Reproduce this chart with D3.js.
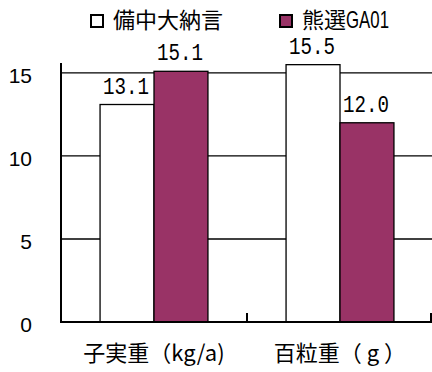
<!DOCTYPE html>
<html>
<head>
<meta charset="utf-8">
<script src="https://cdn.jsdelivr.net/npm/d3@7/dist/d3.min.js"></script>
<style>
  html, body { margin: 0; padding: 0; background: #fff; }
  svg { display: block; }
</style>
</head>
<body>
<svg id="chart" width="432" height="372"></svg>
<script>
// Yield comparison of two azuki varieties
const categories = ["子実重（kg/a)", "百粒重（ g ）"];
const seriesNames = ["備中大納言", "熊選GA01"];
const bicchuDainagon = [13.1, 15.5];
const kumasenGA01 = [15.1, 12.0];
const yTicks = [0, 5, 10, 15];

const seriesValues = [bicchuDainagon, kumasenGA01];
const fills = ["#ffffff", "#993366"];

const svg = d3.select("#chart");
const plotLeft = 61, plotRight = 433, plotTop = 63, plotBottom = 322;

const x = d3.scaleBand().domain(categories).range([plotLeft, plotRight]).paddingInner(0.42).paddingOuter(0.21);
const xs = d3.scaleBand().domain(d3.range(seriesNames.length)).range([0, x.bandwidth()]);
const y = d3.scaleLinear().domain([0, 15.6]).range([plotBottom, plotTop]);

const cjk = "'Noto Sans CJK JP', 'Noto Sans CJK SC', sans-serif";

// horizontal gridlines
svg.append("g").selectAll("line")
  .data(yTicks.filter(t => t > 0))
  .join("line")
  .attr("x1", plotLeft).attr("x2", plotRight)
  .attr("y1", d => y(d)).attr("y2", d => y(d))
  .attr("stroke", "#000").attr("stroke-width", 1.3);

// bars
const rows = [];
categories.forEach((c, ci) => seriesValues.forEach((vals, si) => rows.push({ c, si, v: vals[ci] })));

svg.append("g").selectAll("rect")
  .data(rows)
  .join("rect")
  .attr("x", d => x(d.c) + xs(d.si))
  .attr("y", d => y(d.v))
  .attr("width", xs.bandwidth())
  .attr("height", d => y(0) - y(d.v))
  .attr("fill", d => fills[d.si])
  .attr("stroke", "#000").attr("stroke-width", 1.3);

// value labels
svg.append("g").selectAll("text")
  .data(rows)
  .join("text")
  .attr("x", d => x(d.c) + xs(d.si) + xs.bandwidth() / 2 - 1)
  .attr("y", d => y(d.v) - 11)
  .attr("text-anchor", "middle")
  .attr("font-family", "'Liberation Mono', monospace")
  .attr("font-size", 24)
  .attr("textLength", 46)
  .attr("lengthAdjust", "spacingAndGlyphs")
  .attr("fill", "#000")
  .text(d => d.v.toFixed(1));

// axes
const axes = svg.append("g").attr("stroke", "#000").attr("stroke-width", 2);
axes.append("line").attr("x1", plotLeft).attr("x2", plotLeft).attr("y1", plotTop).attr("y2", plotBottom + 1);
axes.append("line").attr("x1", plotLeft).attr("x2", plotRight).attr("y1", plotBottom).attr("y2", plotBottom);
// category separators on the x axis
const seps = categories.map(c => x(c) + x.bandwidth() + x.step() * 0.21);
axes.selectAll(".sep")
  .data(seps)
  .join("line")
  .attr("x1", d => Math.min(d, 431)).attr("x2", d => Math.min(d, 431))
  .attr("y1", plotBottom - 9).attr("y2", plotBottom);

// y tick labels
svg.append("g").selectAll("text")
  .data(yTicks)
  .join("text")
  .attr("x", 32)
  .attr("y", d => y(d) + 10)
  .attr("text-anchor", "end")
  .attr("font-family", "'Liberation Sans', Arial, sans-serif")
  .attr("font-size", 21)
  .attr("fill", "#000")
  .text(d => d);

// category labels
svg.append("g").selectAll("text")
  .data(categories)
  .join("text")
  .attr("x", d => x(d) + x.bandwidth() / 2)
  .attr("y", 361)
  .attr("text-anchor", "middle")
  .attr("font-family", cjk)
  .attr("font-size", 22)
  .attr("fill", "#000")
  .text(d => d);

// legend
const legendX = [90, 279];
const lg = svg.append("g").selectAll("g")
  .data(seriesNames)
  .join("g")
  .attr("transform", (d, i) => `translate(${legendX[i]},0)`);
lg.append("rect")
  .attr("x", 1).attr("y", 15).attr("width", 12).attr("height", 12)
  .attr("fill", (d, i) => fills[i])
  .attr("stroke", "#000").attr("stroke-width", 2);
lg.each(function(d) {
  const t = d3.select(this).append("text")
    .attr("x", 23).attr("y", 28)
    .attr("font-family", cjk)
    .attr("font-size", 22)
    .attr("fill", "#000");
  const m = d.match(/^([^A-Za-z0-9]+)(.*)$/);
  t.append("tspan").text(m[1]);
  if (m[2]) {
    t.append("tspan")
      .attr("font-family", "'Liberation Sans', Arial, sans-serif")
      .attr("font-size", 24)
      .attr("textLength", 43)
      .attr("lengthAdjust", "spacingAndGlyphs")
      .text(m[2]);
  }
});
</script>
</body>
</html>
